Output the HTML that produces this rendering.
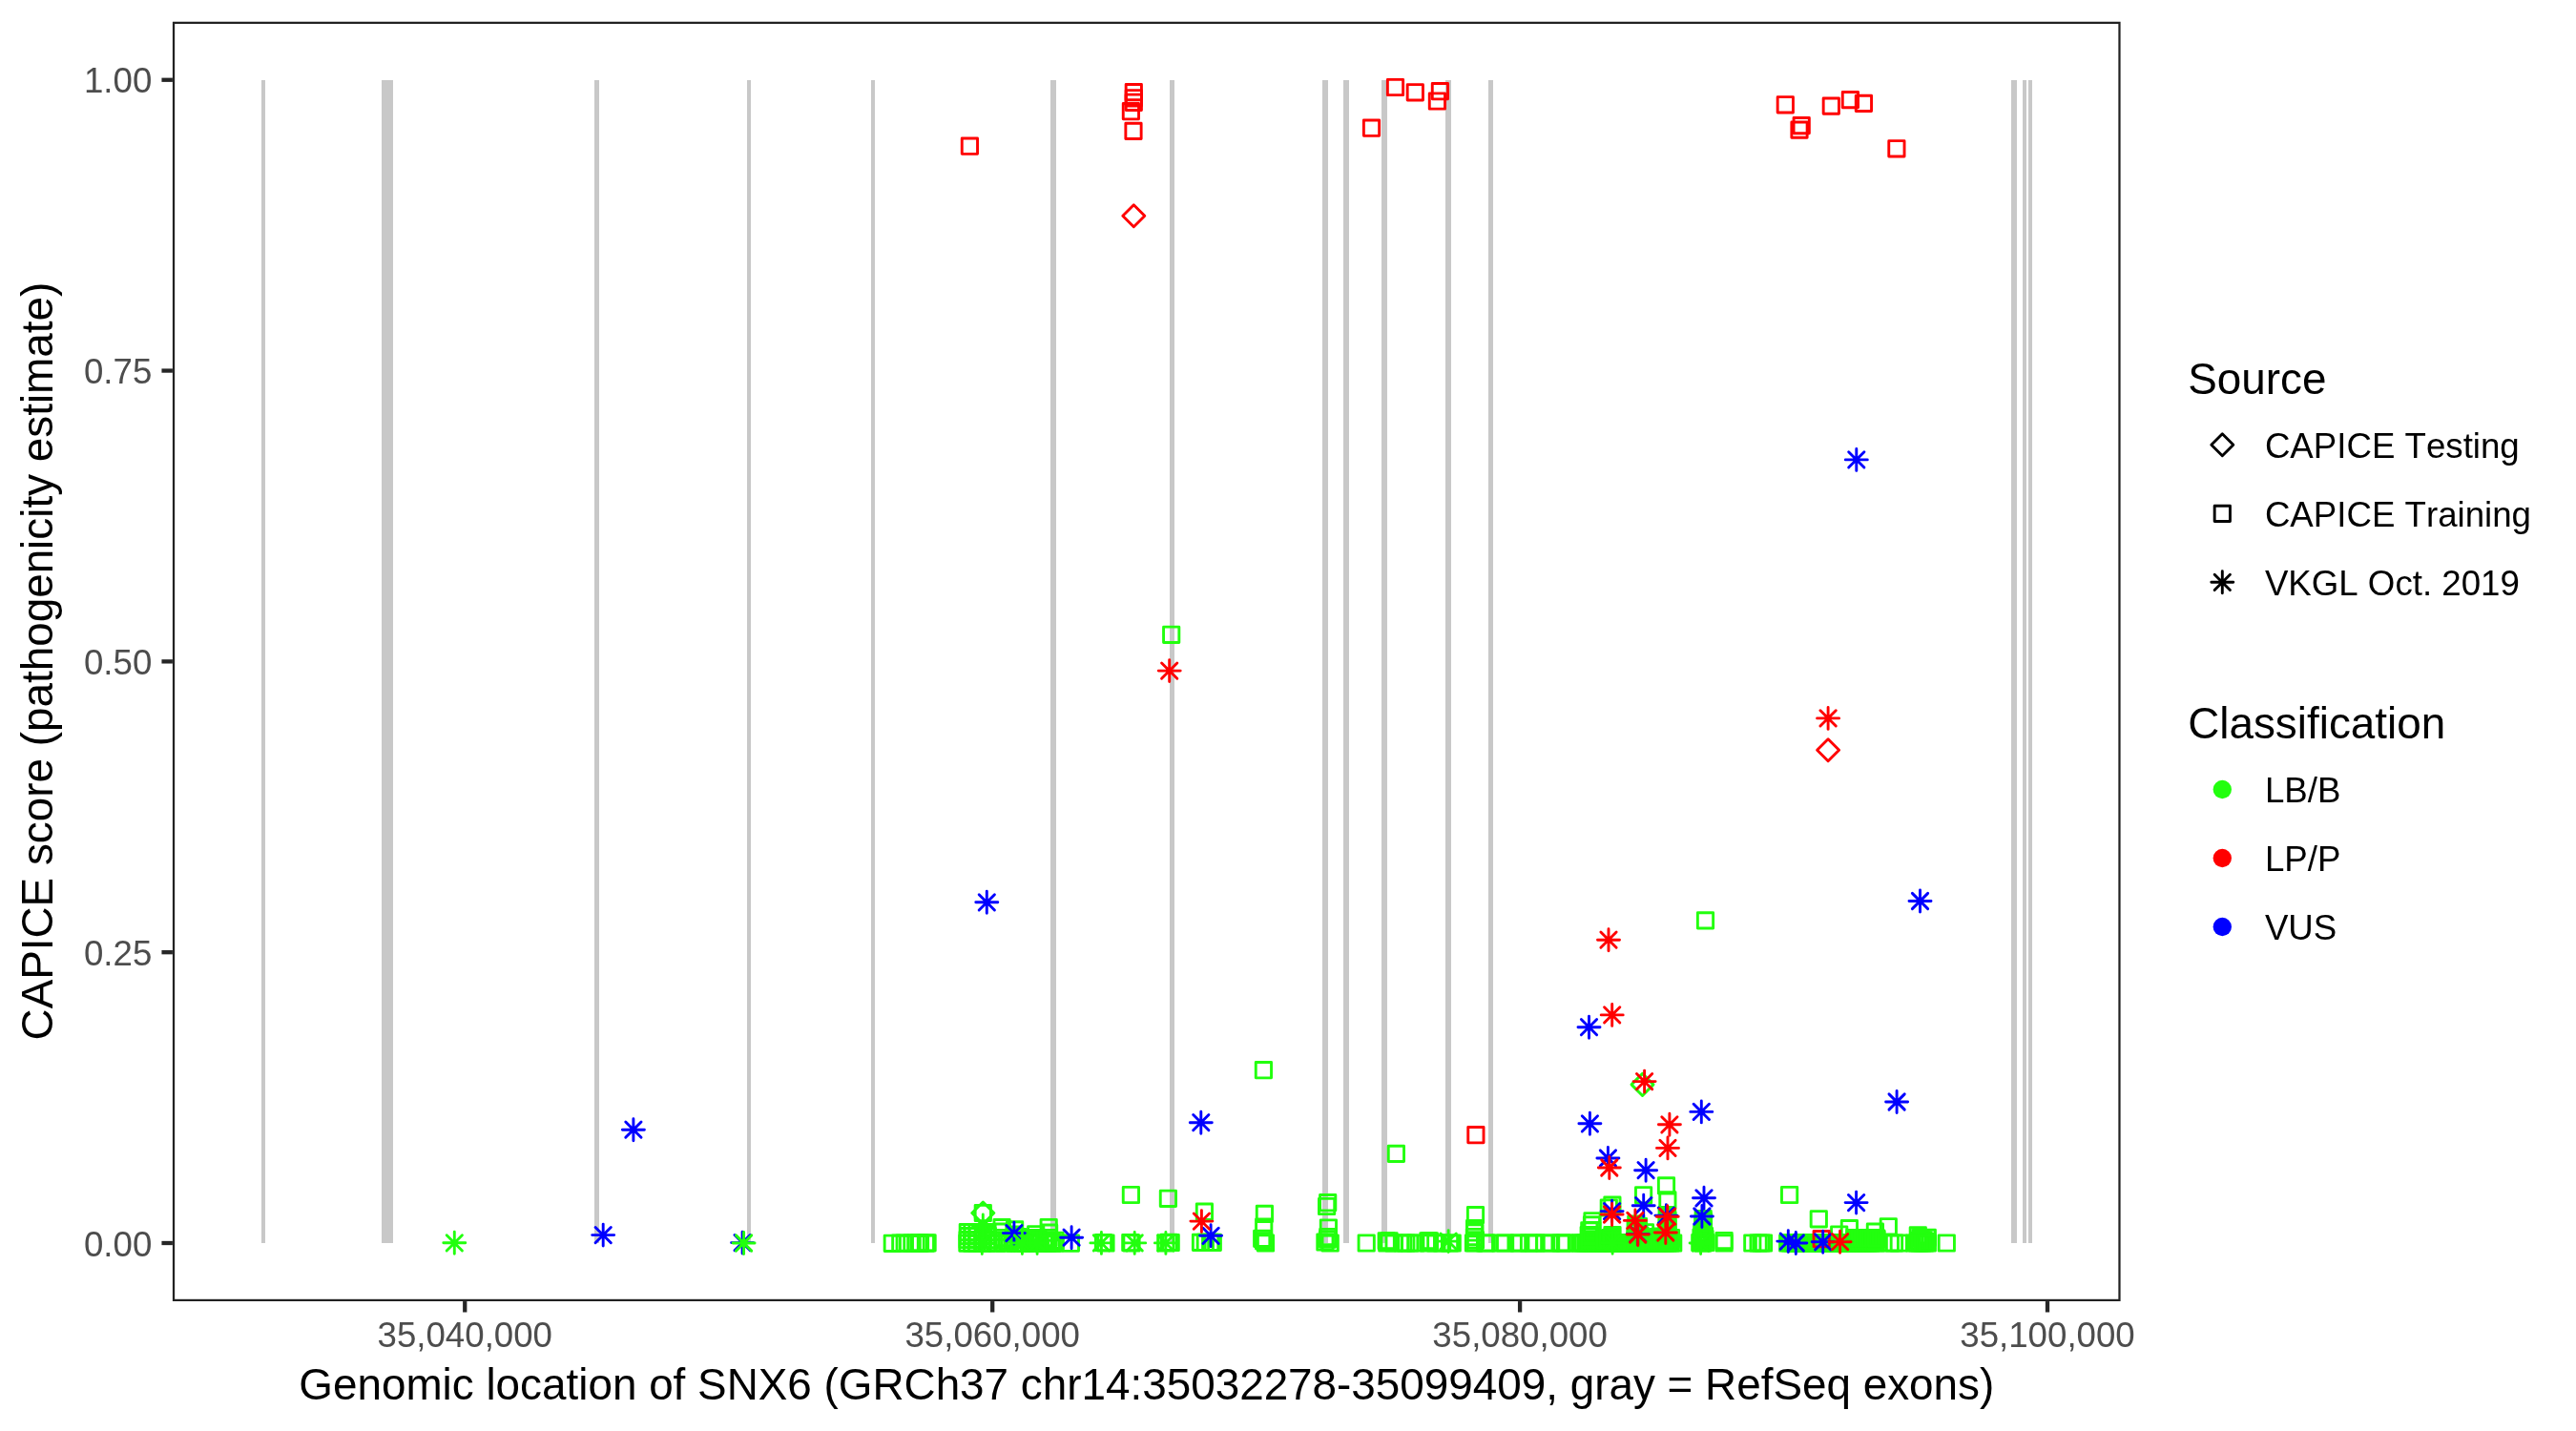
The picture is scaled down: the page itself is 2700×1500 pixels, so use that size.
<!DOCTYPE html>
<html lang="en"><head><meta charset="utf-8"><title>CAPICE score SNX6</title>
<style>
html,body{margin:0;padding:0;background:#fff;}
body{width:2700px;height:1500px;overflow:hidden;}
svg{display:block;will-change:transform;font-kerning:none;font-variant-ligatures:none;font-feature-settings:"kern" 0,"liga" 0;font-family:"Liberation Sans",Arial,Helvetica,sans-serif;}
.at{font-size:36.67px;fill:#4D4D4D;}
.tt{font-size:45.83px;fill:#000;}
.lt{font-size:36.67px;fill:#000;}
</style></head><body>
<svg width="2700" height="1500" viewBox="0 0 2700 1500">
<defs>
<rect id="s" x="-8.137" y="-8.137" width="16.275" height="16.275"/>
<path id="d" d="M-11.508,0 L0,-11.508 L11.508,0 L0,11.508 Z"/>
<path id="a" d="M-8.137,-8.137 L8.137,8.137 M-8.137,8.137 L8.137,-8.137 M-11.508,0 L11.508,0 M0,-11.508 L0,11.508"/>
<clipPath id="cp"><rect x="180.9" y="22.8" width="2041.6999999999998" height="1341.25"/></clipPath>
</defs>
<rect width="2700" height="1500" fill="#fff"/>

<g clip-path="url(#cp)">
<g fill="#C8C8C8">
<rect x="274" y="84" width="4" height="1219"/>
<rect x="400" y="84" width="12" height="1219"/>
<rect x="623" y="84" width="5" height="1219"/>
<rect x="783" y="84" width="4" height="1219"/>
<rect x="913" y="84" width="4" height="1219"/>
<rect x="1101" y="84" width="6" height="1219"/>
<rect x="1226" y="84" width="5" height="1219"/>
<rect x="1386" y="84" width="6" height="1219"/>
<rect x="1408" y="84" width="6" height="1219"/>
<rect x="1448" y="84" width="6" height="1219"/>
<rect x="1515" y="84" width="6" height="1219"/>
<rect x="1560" y="84" width="5" height="1219"/>
<rect x="2108" y="84" width="6" height="1219"/>
<rect x="2120" y="84" width="4" height="1219"/>
<rect x="2126" y="84" width="4" height="1219"/>
</g>
<g fill="none" stroke-width="2.9" stroke-linejoin="round" stroke-linecap="round">
<g stroke="#22FF0E">
<use href="#s" x="1227.7" y="665.3"/><use href="#s" x="1787.5" y="964.9"/><use href="#s" x="1324.4" y="1121.7"/><use href="#s" x="1463.4" y="1209.4"/><use href="#s" x="1185.4" y="1252.5"/><use href="#s" x="1224.4" y="1256.3"/><use href="#s" x="1262.4" y="1270.2"/><use href="#s" x="1875.6" y="1252.5"/><use href="#s" x="1906.3" y="1277.8"/><use href="#s" x="1546.5" y="1273.6"/><use href="#s" x="1746.5" y="1242.9"/><use href="#s" x="1747.9" y="1257.9"/><use href="#s" x="1722.6" y="1252.8"/><use href="#s" x="1325.4" y="1272.4"/><use href="#s" x="1324.7" y="1286.0"/><use href="#s" x="1322.7" y="1298.4"/><use href="#s" x="1326.5" y="1303.0"/><use href="#s" x="1324.6" y="1300.8"/><use href="#s" x="1391.7" y="1260.7"/><use href="#s" x="1390.6" y="1264.5"/><use href="#s" x="1392.4" y="1287.0"/><use href="#s" x="1391.8" y="1296.5"/><use href="#s" x="1388.9" y="1302.0"/><use href="#s" x="1394.2" y="1303.0"/><use href="#s" x="1391.5" y="1299.2"/><use href="#s" x="935.3" y="1303.3"/><use href="#s" x="943.8" y="1303.2"/><use href="#s" x="948.2" y="1303.1"/><use href="#s" x="955.9" y="1303.1"/><use href="#s" x="960.1" y="1303.1"/><use href="#s" x="963.2" y="1303.1"/><use href="#s" x="964.5" y="1303.1"/><use href="#s" x="970.4" y="1303.1"/><use href="#s" x="972.1" y="1302.9"/><use href="#s" x="1030.3" y="1271.5"/><use href="#s" x="1014.3" y="1291.6"/><use href="#s" x="1014.6" y="1295.6"/><use href="#s" x="1014.1" y="1299.6"/><use href="#s" x="1013.9" y="1303.2"/><use href="#s" x="1019.0" y="1291.6"/><use href="#s" x="1019.3" y="1295.6"/><use href="#s" x="1018.8" y="1299.6"/><use href="#s" x="1018.6" y="1303.2"/><use href="#s" x="1024.0" y="1291.6"/><use href="#s" x="1024.3" y="1295.6"/><use href="#s" x="1023.8" y="1299.6"/><use href="#s" x="1023.6" y="1303.2"/><use href="#s" x="1030.4" y="1291.6"/><use href="#s" x="1030.7" y="1295.6"/><use href="#s" x="1030.2" y="1299.6"/><use href="#s" x="1030.0" y="1303.2"/><use href="#s" x="1035.0" y="1291.6"/><use href="#s" x="1035.3" y="1295.6"/><use href="#s" x="1034.8" y="1299.6"/><use href="#s" x="1034.6" y="1303.2"/><use href="#s" x="1042.0" y="1300.2"/><use href="#s" x="1045.0" y="1303.2"/><use href="#s" x="1050.1" y="1286.7"/><use href="#s" x="1050.3" y="1291.2"/><use href="#s" x="1051.5" y="1297.5"/><use href="#s" x="1052.5" y="1303.2"/><use href="#s" x="1055.5" y="1300.5"/><use href="#s" x="1063.6" y="1288.9"/><use href="#s" x="1063.0" y="1294.0"/><use href="#s" x="1062.0" y="1299.0"/><use href="#s" x="1064.0" y="1303.2"/><use href="#s" x="1058.0" y="1302.0"/><use href="#s" x="1068.0" y="1303.2"/><use href="#s" x="1072.0" y="1300.0"/><use href="#s" x="1067.0" y="1296.5"/><use href="#s" x="1075.0" y="1303.2"/><use href="#s" x="1085.7" y="1293.8"/><use href="#s" x="1084.0" y="1298.0"/><use href="#s" x="1086.0" y="1303.2"/><use href="#s" x="1078.5" y="1303.2"/><use href="#s" x="1080.5" y="1299.2"/><use href="#s" x="1090.0" y="1301.0"/><use href="#s" x="1082.0" y="1301.5"/><use href="#s" x="1088.0" y="1297.5"/><use href="#s" x="1099.2" y="1286.5"/><use href="#s" x="1099.6" y="1292.2"/><use href="#s" x="1099.0" y="1297.5"/><use href="#s" x="1098.0" y="1303.2"/><use href="#s" x="1094.0" y="1303.2"/><use href="#s" x="1096.0" y="1300.2"/><use href="#s" x="1102.0" y="1300.5"/><use href="#s" x="1103.0" y="1303.2"/><use href="#s" x="1106.0" y="1300.3"/><use href="#s" x="1105.5" y="1303.2"/><use href="#s" x="1122.4" y="1303.2"/><use href="#s" x="1156.5" y="1302.5"/><use href="#s" x="1159.0" y="1303.0"/><use href="#s" x="1184.8" y="1302.5"/><use href="#s" x="1186.0" y="1303.0"/><use href="#s" x="1221.8" y="1303.0"/><use href="#s" x="1225.0" y="1302.3"/><use href="#s" x="1227.2" y="1302.5"/><use href="#s" x="1258.5" y="1302.4"/><use href="#s" x="1263.3" y="1302.4"/><use href="#s" x="1268.7" y="1302.4"/><use href="#s" x="1271.3" y="1302.4"/><use href="#s" x="1432.2" y="1303.0"/><use href="#s" x="1453.2" y="1300.9"/><use href="#s" x="1456.1" y="1300.9"/><use href="#s" x="1453.8" y="1303.0"/><use href="#s" x="1461.1" y="1303.0"/><use href="#s" x="1470.6" y="1303.0"/><use href="#s" x="1473.8" y="1303.0"/><use href="#s" x="1477.7" y="1303.0"/><use href="#s" x="1483.8" y="1303.0"/><use href="#s" x="1496.9" y="1300.9"/><use href="#s" x="1498.4" y="1300.9"/><use href="#s" x="1497.5" y="1303.0"/><use href="#s" x="1504.8" y="1303.0"/><use href="#s" x="1511.6" y="1303.0"/><use href="#s" x="1519.5" y="1303.0"/><use href="#s" x="1522.2" y="1303.0"/><use href="#s" x="1545.6" y="1287.6"/><use href="#s" x="1545.8" y="1292.0"/><use href="#s" x="1545.4" y="1296.5"/><use href="#s" x="1545.6" y="1302.6"/><use href="#s" x="1544.5" y="1303.0"/><use href="#s" x="1546.5" y="1299.8"/><use href="#s" x="1556.6" y="1303.0"/><use href="#s" x="1558.3" y="1303.0"/><use href="#s" x="1572.8" y="1303.0"/><use href="#s" x="1577.6" y="1303.0"/><use href="#s" x="1590.6" y="1303.0"/><use href="#s" x="1592.3" y="1303.0"/><use href="#s" x="1602.5" y="1303.0"/><use href="#s" x="1607.5" y="1303.0"/><use href="#s" x="1610.1" y="1303.0"/><use href="#s" x="1618.8" y="1303.0"/><use href="#s" x="1625.6" y="1303.0"/><use href="#s" x="1636.1" y="1303.0"/><use href="#s" x="1636.9" y="1303.0"/><use href="#s" x="1640.4" y="1303.0"/><use href="#s" x="1653.5" y="1303.0"/><use href="#s" x="1656.5" y="1303.0"/><use href="#s" x="1659.2" y="1303.0"/><use href="#s" x="1661.9" y="1303.0"/><use href="#s" x="1664.6" y="1303.0"/><use href="#s" x="1667.3" y="1303.0"/><use href="#s" x="1670.0" y="1303.0"/><use href="#s" x="1672.7" y="1303.0"/><use href="#s" x="1675.4" y="1303.0"/><use href="#s" x="1678.1" y="1303.0"/><use href="#s" x="1680.8" y="1303.0"/><use href="#s" x="1683.5" y="1303.0"/><use href="#s" x="1686.2" y="1303.0"/><use href="#s" x="1688.9" y="1303.0"/><use href="#s" x="1691.6" y="1303.0"/><use href="#s" x="1694.3" y="1303.0"/><use href="#s" x="1697.0" y="1303.0"/><use href="#s" x="1699.7" y="1303.0"/><use href="#s" x="1702.4" y="1303.0"/><use href="#s" x="1705.1" y="1303.0"/><use href="#s" x="1707.8" y="1303.0"/><use href="#s" x="1710.5" y="1303.0"/><use href="#s" x="1713.2" y="1303.0"/><use href="#s" x="1715.9" y="1303.0"/><use href="#s" x="1718.6" y="1303.0"/><use href="#s" x="1721.3" y="1303.0"/><use href="#s" x="1724.0" y="1303.0"/><use href="#s" x="1726.7" y="1303.0"/><use href="#s" x="1729.4" y="1303.0"/><use href="#s" x="1732.1" y="1303.0"/><use href="#s" x="1734.8" y="1303.0"/><use href="#s" x="1737.5" y="1303.0"/><use href="#s" x="1740.2" y="1303.0"/><use href="#s" x="1742.9" y="1303.0"/><use href="#s" x="1745.6" y="1303.0"/><use href="#s" x="1748.3" y="1303.0"/><use href="#s" x="1751.0" y="1303.0"/><use href="#s" x="1753.7" y="1303.0"/><use href="#s" x="1666.0" y="1300.2"/><use href="#s" x="1669.1" y="1300.2"/><use href="#s" x="1672.2" y="1300.2"/><use href="#s" x="1675.3" y="1300.2"/><use href="#s" x="1678.4" y="1300.2"/><use href="#s" x="1681.5" y="1300.2"/><use href="#s" x="1684.6" y="1300.2"/><use href="#s" x="1687.7" y="1300.2"/><use href="#s" x="1714.0" y="1300.2"/><use href="#s" x="1717.1" y="1300.2"/><use href="#s" x="1720.2" y="1300.2"/><use href="#s" x="1723.3" y="1300.2"/><use href="#s" x="1726.4" y="1300.2"/><use href="#s" x="1729.5" y="1300.2"/><use href="#s" x="1732.6" y="1300.2"/><use href="#s" x="1735.7" y="1300.2"/><use href="#s" x="1738.8" y="1300.2"/><use href="#s" x="1741.9" y="1300.2"/><use href="#s" x="1745.0" y="1300.2"/><use href="#s" x="1748.1" y="1300.2"/><use href="#s" x="1751.2" y="1300.2"/><use href="#s" x="1669.0" y="1279.8"/><use href="#s" x="1668.5" y="1283.9"/><use href="#s" x="1668.8" y="1289.6"/><use href="#s" x="1665.8" y="1289.9"/><use href="#s" x="1668.0" y="1295.8"/><use href="#s" x="1665.2" y="1294.5"/><use href="#s" x="1666.0" y="1299.0"/><use href="#s" x="1689.9" y="1263.1"/><use href="#s" x="1686.3" y="1266.0"/><use href="#s" x="1690.0" y="1294.6"/><use href="#s" x="1688.0" y="1297.5"/><use href="#s" x="1689.5" y="1297.2"/><use href="#s" x="1682.0" y="1299.5"/><use href="#s" x="1685.0" y="1298.0"/><use href="#s" x="1689.0" y="1299.8"/><use href="#s" x="1714.8" y="1283.0"/><use href="#s" x="1714.2" y="1287.6"/><use href="#s" x="1715.2" y="1292.2"/><use href="#s" x="1714.0" y="1296.8"/><use href="#s" x="1719.0" y="1295.0"/><use href="#s" x="1716.0" y="1289.8"/><use href="#s" x="1717.5" y="1285.5"/><use href="#s" x="1724.5" y="1291.8"/><use href="#s" x="1726.0" y="1297.2"/><use href="#s" x="1730.0" y="1298.5"/><use href="#s" x="1734.0" y="1297.5"/><use href="#s" x="1738.0" y="1296.5"/><use href="#s" x="1747.2" y="1273.5"/><use href="#s" x="1747.6" y="1276.3"/><use href="#s" x="1748.0" y="1279.1"/><use href="#s" x="1747.2" y="1281.9"/><use href="#s" x="1747.6" y="1284.7"/><use href="#s" x="1748.0" y="1287.5"/><use href="#s" x="1747.2" y="1290.3"/><use href="#s" x="1747.6" y="1293.1"/><use href="#s" x="1748.0" y="1295.9"/><use href="#s" x="1747.2" y="1298.7"/><use href="#s" x="1747.6" y="1301.5"/><use href="#s" x="1742.0" y="1296.0"/><use href="#s" x="1751.5" y="1297.5"/><use href="#s" x="1785.2" y="1277.6"/><use href="#s" x="1785.5" y="1280.4"/><use href="#s" x="1785.0" y="1283.2"/><use href="#s" x="1785.3" y="1286.0"/><use href="#s" x="1785.0" y="1288.8"/><use href="#s" x="1785.4" y="1291.6"/><use href="#s" x="1785.1" y="1294.4"/><use href="#s" x="1785.0" y="1297.2"/><use href="#s" x="1785.2" y="1300.0"/><use href="#s" x="1785.2" y="1303.0"/><use href="#s" x="1781.8" y="1302.5"/><use href="#s" x="1787.8" y="1302.5"/><use href="#s" x="1783.5" y="1300.0"/><use href="#s" x="1783.0" y="1297.0"/><use href="#s" x="1787.0" y="1298.5"/><use href="#s" x="1784.3" y="1302.8"/><use href="#s" x="1786.5" y="1295.5"/><use href="#s" x="1783.8" y="1293.0"/><use href="#s" x="1807.1" y="1300.5"/><use href="#s" x="1807.1" y="1303.0"/><use href="#s" x="1836.8" y="1303.0"/><use href="#s" x="1843.1" y="1303.0"/><use href="#s" x="1846.0" y="1303.0"/><use href="#s" x="1848.5" y="1303.0"/><use href="#s" x="1873.7" y="1303.0"/><use href="#s" x="1876.4" y="1303.0"/><use href="#s" x="1879.1" y="1303.0"/><use href="#s" x="1881.8" y="1303.0"/><use href="#s" x="1884.5" y="1303.0"/><use href="#s" x="1887.2" y="1303.0"/><use href="#s" x="1889.9" y="1303.0"/><use href="#s" x="1892.6" y="1303.0"/><use href="#s" x="1895.3" y="1303.0"/><use href="#s" x="1898.8" y="1303.0"/><use href="#s" x="1901.5" y="1303.0"/><use href="#s" x="1904.2" y="1303.0"/><use href="#s" x="1906.9" y="1303.0"/><use href="#s" x="1909.6" y="1303.0"/><use href="#s" x="1912.3" y="1303.0"/><use href="#s" x="1915.0" y="1303.0"/><use href="#s" x="1917.7" y="1303.0"/><use href="#s" x="1920.4" y="1303.0"/><use href="#s" x="1923.1" y="1303.0"/><use href="#s" x="1925.8" y="1303.0"/><use href="#s" x="1928.5" y="1303.0"/><use href="#s" x="1931.2" y="1303.0"/><use href="#s" x="1933.9" y="1303.0"/><use href="#s" x="1936.6" y="1303.0"/><use href="#s" x="1939.3" y="1303.0"/><use href="#s" x="1942.0" y="1303.0"/><use href="#s" x="1944.7" y="1303.0"/><use href="#s" x="1947.4" y="1303.0"/><use href="#s" x="1950.1" y="1303.0"/><use href="#s" x="1952.8" y="1303.0"/><use href="#s" x="1955.5" y="1303.0"/><use href="#s" x="1958.2" y="1303.0"/><use href="#s" x="1960.9" y="1303.0"/><use href="#s" x="1963.6" y="1303.0"/><use href="#s" x="1966.3" y="1303.0"/><use href="#s" x="1944.0" y="1300.3"/><use href="#s" x="1947.1" y="1300.3"/><use href="#s" x="1950.2" y="1300.3"/><use href="#s" x="1953.3" y="1300.3"/><use href="#s" x="1956.4" y="1300.3"/><use href="#s" x="1959.5" y="1300.3"/><use href="#s" x="1962.6" y="1300.3"/><use href="#s" x="1965.7" y="1300.3"/><use href="#s" x="1927.7" y="1294.0"/><use href="#s" x="1938.4" y="1287.7"/><use href="#s" x="1965.4" y="1291.1"/><use href="#s" x="1979.3" y="1285.8"/><use href="#s" x="1967.1" y="1298.7"/><use href="#s" x="1943.8" y="1297.6"/><use href="#s" x="1946.6" y="1297.6"/><use href="#s" x="1949.4" y="1297.6"/><use href="#s" x="1952.2" y="1297.6"/><use href="#s" x="1955.0" y="1297.6"/><use href="#s" x="1957.8" y="1297.6"/><use href="#s" x="1960.6" y="1297.6"/><use href="#s" x="1963.4" y="1297.6"/><use href="#s" x="1966.2" y="1297.6"/><use href="#s" x="1981.3" y="1303.0"/><use href="#s" x="1985.5" y="1303.0"/><use href="#s" x="1990.3" y="1303.0"/><use href="#s" x="2006.7" y="1303.0"/><use href="#s" x="2010.3" y="1294.9"/><use href="#s" x="2020.3" y="1297.4"/><use href="#s" x="2015.7" y="1299.9"/><use href="#s" x="2013.0" y="1297.6"/><use href="#s" x="2018.0" y="1301.0"/><use href="#s" x="2011.5" y="1300.5"/><use href="#s" x="2009.5" y="1303.0"/><use href="#s" x="2012.2" y="1303.0"/><use href="#s" x="2014.9" y="1303.0"/><use href="#s" x="2017.6" y="1303.0"/><use href="#s" x="2020.3" y="1303.0"/><use href="#s" x="2040.3" y="1303.0"/>
</g>
<g stroke="#22FF0E">
<use href="#d" x="1721.5" y="1136.9"/><use href="#d" x="1030.3" y="1271.5"/>
</g>
<g stroke="#FF0000">
<use href="#s" x="1016.4" y="153.2"/><use href="#s" x="1188.3" y="96.6"/><use href="#s" x="1188.3" y="102.8"/><use href="#s" x="1188.3" y="107.3"/><use href="#s" x="1185.4" y="116.7"/><use href="#s" x="1188.0" y="137.4"/><use href="#s" x="1462.5" y="91.5"/><use href="#s" x="1483.3" y="96.8"/><use href="#s" x="1509.4" y="95.7"/><use href="#s" x="1506.4" y="106.0"/><use href="#s" x="1437.5" y="134.2"/><use href="#s" x="1871.3" y="109.8"/><use href="#s" x="1919.3" y="111.1"/><use href="#s" x="1939.4" y="104.6"/><use href="#s" x="1953.4" y="108.4"/><use href="#s" x="1888.2" y="131.6"/><use href="#s" x="1886.0" y="136.1"/><use href="#s" x="1987.9" y="155.8"/><use href="#s" x="1546.9" y="1189.7"/><use href="#s" x="1909.2" y="1298.7"/>
</g>
<g stroke="#FF0000">
<use href="#d" x="1916.1" y="786.2"/><use href="#d" x="1188.3" y="226.3"/>
</g>
<g stroke="#0000FF">
<use href="#a" x="1034.3" y="945.8"/><use href="#a" x="663.9" y="1184.2"/><use href="#a" x="1945.8" y="481.9"/><use href="#a" x="2012.5" y="944.5"/><use href="#a" x="1665.5" y="1076.7"/><use href="#a" x="1783.3" y="1165.4"/><use href="#a" x="1666.4" y="1177.8"/><use href="#a" x="1685.4" y="1214.0"/><use href="#a" x="1725.1" y="1226.7"/><use href="#a" x="1786.0" y="1255.8"/><use href="#a" x="1722.7" y="1263.7"/><use href="#a" x="1689.6" y="1269.6"/><use href="#a" x="1746.4" y="1274.1"/><use href="#a" x="1783.9" y="1275.0"/><use href="#a" x="1716.7" y="1293.6"/><use href="#a" x="632.2" y="1294.6"/><use href="#a" x="778.1" y="1302.6"/><use href="#a" x="1062.9" y="1292.6"/><use href="#a" x="1123.1" y="1297.2"/><use href="#a" x="1258.8" y="1176.7"/><use href="#a" x="1269.1" y="1295.3"/><use href="#a" x="1874.3" y="1301.1"/><use href="#a" x="1882.3" y="1303.0"/><use href="#a" x="1910.7" y="1301.8"/><use href="#a" x="1945.6" y="1260.6"/><use href="#a" x="1988.1" y="1155.0"/>
</g>
<g stroke="#22FF0E">
<use href="#a" x="476.3" y="1302.8"/><use href="#a" x="779.6" y="1303.0"/><use href="#a" x="1029.3" y="1303.0"/><use href="#a" x="1030.3" y="1284.5"/><use href="#a" x="1071.4" y="1303.0"/><use href="#a" x="1087.1" y="1303.0"/><use href="#a" x="1154.4" y="1302.9"/><use href="#a" x="1189.2" y="1302.9"/><use href="#a" x="1221.9" y="1302.9"/><use href="#a" x="1518.1" y="1301.1"/><use href="#a" x="1690.1" y="1302.8"/><use href="#a" x="1782.6" y="1303.0"/>
</g>
<g stroke="#FF0000">
<use href="#a" x="1225.7" y="703.1"/><use href="#a" x="1916.1" y="752.9"/><use href="#a" x="1686.0" y="985.2"/><use href="#a" x="1689.7" y="1063.9"/><use href="#a" x="1723.6" y="1133.6"/><use href="#a" x="1749.9" y="1178.8"/><use href="#a" x="1748.0" y="1203.4"/><use href="#a" x="1686.8" y="1224.0"/><use href="#a" x="1689.6" y="1273.0"/><use href="#a" x="1747.7" y="1275.2"/><use href="#a" x="1713.9" y="1279.4"/><use href="#a" x="1716.7" y="1294.0"/><use href="#a" x="1745.8" y="1292.0"/><use href="#a" x="1259.4" y="1280.1"/><use href="#a" x="1928.6" y="1301.7"/>
</g>
</g>
<rect x="180.9" y="22.8" width="2041.6999999999998" height="1341.25" fill="none" stroke="#222222" stroke-width="4.5"/>
</g>
<g stroke="#262626" stroke-width="4.3" stroke-linecap="butt">
<line x1="169.44" x2="180.9" y1="83.75" y2="83.75"/>
<line x1="169.44" x2="180.9" y1="388.56" y2="388.56"/>
<line x1="169.44" x2="180.9" y1="693.38" y2="693.38"/>
<line x1="169.44" x2="180.9" y1="998.19" y2="998.19"/>
<line x1="169.44" x2="180.9" y1="1303.00" y2="1303.00"/>
<line x1="487.25" x2="487.25" y1="1364.05" y2="1375.51"/>
<line x1="1040.2" x2="1040.2" y1="1364.05" y2="1375.51"/>
<line x1="1593.1" x2="1593.1" y1="1364.05" y2="1375.51"/>
<line x1="2146.0" x2="2146.0" y1="1364.05" y2="1375.51"/>
</g>
<g class="at" text-anchor="end">
<text x="159.3" y="96.5">1.00</text>
<text x="159.3" y="401.5">0.75</text>
<text x="159.3" y="706.5">0.50</text>
<text x="159.3" y="1011.5">0.25</text>
<text x="159.3" y="1316.5">0.00</text>
</g>
<g class="at" text-anchor="middle">
<text x="487.25" y="1411.5">35,040,000</text>
<text x="1040.2" y="1411.5">35,060,000</text>
<text x="1593.1" y="1411.5">35,080,000</text>
<text x="2146.0" y="1411.5">35,100,000</text>
</g>
<text class="tt" text-anchor="middle" x="1201.8" y="1466.8">Genomic location of SNX6 (GRCh37 chr14:35032278-35099409, gray = RefSeq exons)</text>
<text class="tt" text-anchor="middle" transform="translate(54.6,693.1) rotate(-90)">CAPICE score (pathogenicity estimate)</text>
<text class="tt" x="2293.2" y="413.3">Source</text>
<g fill="none" stroke="#000" stroke-width="2.9" stroke-linejoin="round" stroke-linecap="round">
<use href="#d" x="2329.3" y="466.3"/>
<use href="#s" x="2329.3" y="538.4"/>
<use href="#a" x="2329.3" y="610.3"/>
</g>
<g class="lt"><text x="2373.9" y="479.6">CAPICE Testing</text><text x="2373.9" y="551.6">CAPICE Training</text><text x="2373.9" y="623.6">VKGL Oct. 2019</text></g>
<text class="tt" x="2293.2" y="774.4">Classification</text>
<circle cx="2329.3" cy="827.5" r="9.7" fill="#22FF0E"/><circle cx="2329.3" cy="899.5" r="9.7" fill="#FF0000"/><circle cx="2329.3" cy="971.5" r="9.7" fill="#0000FF"/>
<g class="lt"><text x="2373.9" y="840.6">LB/B</text><text x="2373.9" y="912.6">LP/P</text><text x="2373.9" y="984.6">VUS</text></g>
</svg></body></html>
